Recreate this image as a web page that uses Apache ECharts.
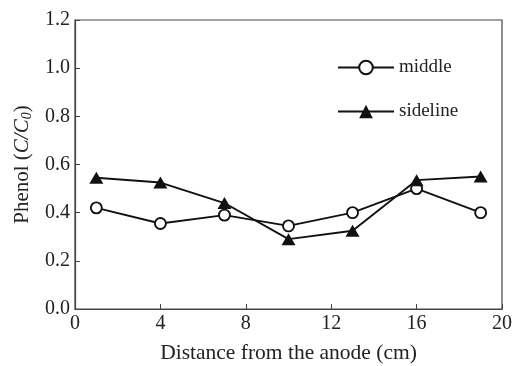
<!DOCTYPE html>
<html><head><meta charset="utf-8">
<script src="https://cdn.jsdelivr.net/npm/echarts@6/dist/echarts.min.js"></script>
<style>html,body{margin:0;padding:0;background:#fff}#c{width:513px;height:366px}</style>
</head><body><div id="c"></div>
<script>
const distances = [1, 4, 7, 10, 13, 16, 19];
const middle = [0.42, 0.355, 0.39, 0.345, 0.40, 0.50, 0.40];
const sideline = [0.545, 0.525, 0.44, 0.29, 0.325, 0.535, 0.55];
const xTicks = [0, 4, 8, 12, 16, 20];
const yTicks = [0.0, 0.2, 0.4, 0.6, 0.8, 1.0, 1.2];
const seriesNames = ['middle', 'sideline'];

const font = 'Liberation Serif';
const chart = echarts.init(document.getElementById('c'));
const axisLine = { lineStyle: { color: '#444', width: 1.2 } };
chart.setOption({
  animation: false,
  grid: { left: 75, right: 11, top: 20, bottom: 57, show: true, borderColor: '#444', borderWidth: 1.2,
    containLabel: false, outerBoundsMode: 'none' },
  legend: {
    orient: 'vertical', left: 332, top: 52, itemGap: 23, itemWidth: 56, itemHeight: 17,
    data: seriesNames,
    textStyle: { fontFamily: font, fontSize: 19, color: '#222', lineHeight: 21 }
  },
  xAxis: {
    type: 'value', min: 0, max: 20, interval: 4,
    axisLine: axisLine,
    axisTick: { inside: true, length: 5, lineStyle: { color: '#444' } },
    splitLine: { show: false },
    axisLabel: { fontFamily: font, fontSize: 20, color: '#222', margin: 5,
      formatter: v => xTicks.includes(v) ? String(v) : '' },
    name: 'Distance from the anode (cm)', nameLocation: 'middle', nameGap: 33,
    nameTextStyle: { fontFamily: font, fontSize: 21.5, color: '#222' }
  },
  yAxis: {
    type: 'value', min: 0, max: 1.2, interval: 0.2,
    axisLine: axisLine,
    axisTick: { inside: true, length: 5, lineStyle: { color: '#444' } },
    splitLine: { show: false },
    axisLabel: { fontFamily: font, fontSize: 20, color: '#222', margin: 5,
      formatter: v => { const t = yTicks.find(y => Math.abs(y - v) < 1e-9); return t === undefined ? '' : t.toFixed(1); } },
    name: '{n|Phenol (}{i|C/C}{s|0}{n|)}', nameLocation: 'middle', nameRotate: 90, nameGap: 40,
    nameTextStyle: {
      fontFamily: font, fontSize: 21, color: '#222',
      rich: {
        n: { fontFamily: font, fontSize: 21, color: '#222' },
        i: { fontFamily: font, fontSize: 21, fontStyle: 'italic', color: '#222' },
        s: { fontFamily: font, fontSize: 14, fontStyle: 'italic', color: '#222', verticalAlign: 'bottom', padding: [10, 0, 0, 0] }
      }
    }
  },
  series: [
    {
      name: seriesNames[0], type: 'line',
      data: distances.map((d, i) => [d, middle[i]]),
      symbol: 'circle', symbolSize: 11,
      lineStyle: { color: '#111', width: 1.9 },
      itemStyle: { color: '#fff', borderColor: '#111', borderWidth: 1.9 }
    },
    {
      name: seriesNames[1], type: 'line',
      data: distances.map((d, i) => [d, sideline[i]]),
      symbol: 'triangle', symbolSize: [14, 12],
      lineStyle: { color: '#111', width: 1.9 },
      itemStyle: { color: '#111', borderColor: '#111', borderWidth: 0 }
    }
  ]
});
</script></body></html>
